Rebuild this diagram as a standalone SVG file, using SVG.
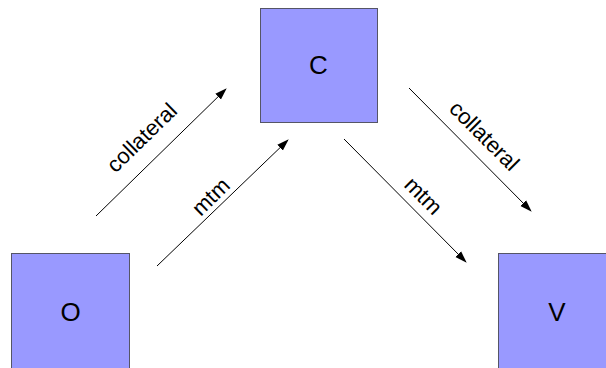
<svg xmlns="http://www.w3.org/2000/svg" width="606" height="368" viewBox="0 0 606 368">
<style>
.box{fill:#9999ff;stroke:#555566;stroke-width:1}
.nt{font-family:"Liberation Sans",Arial,sans-serif;font-size:26px;fill:#000;text-anchor:middle;dominant-baseline:central}
.lb{font-family:"Liberation Sans",Arial,sans-serif;font-size:22px;fill:#000;text-anchor:middle}
.ln{stroke:#000;stroke-width:1;fill:none;marker-end:url(#ah)}
</style>
<defs>
<marker id="ah" markerWidth="12" markerHeight="10" refX="11" refY="4" orient="auto" markerUnits="userSpaceOnUse" viewBox="0 0 12 8">
<path d="M0,0 L12,4 L0,8 Z" fill="#000"/>
</marker>
</defs>
<g id="node-O"><rect class="box" x="11.5" y="253.5" width="118" height="115"/><text class="nt" x="70.5" y="312">O</text></g>
<g id="node-C"><rect class="box" x="260.5" y="8.5" width="117" height="114"/><text class="nt" x="318.5" y="65">C</text></g>
<g id="node-V"><rect class="box" x="498.5" y="253.5" width="118" height="115"/><text class="nt" x="557" y="312">V</text></g>
<g id="connectors">
<line class="ln" x1="96" y1="216" x2="226" y2="89"/>
<line class="ln" x1="157" y1="266" x2="288" y2="140"/>
<line class="ln" x1="409" y1="88" x2="531" y2="211"/>
<line class="ln" x1="344" y1="139" x2="466" y2="262"/>
<text class="lb" transform="translate(147,143) rotate(-44.3)">collateral</text>
<text class="lb" transform="translate(216,202) rotate(-44.3)">mtm</text>
<text class="lb" transform="translate(479,141) rotate(45)">collateral</text>
<text class="lb" transform="translate(418,201) rotate(45)">mtm</text>
</g>
</svg>
